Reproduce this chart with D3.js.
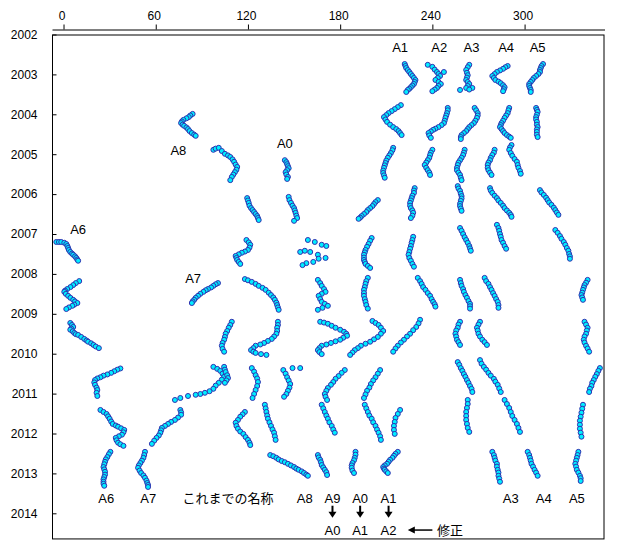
<!DOCTYPE html>
<html>
<head>
<meta charset="utf-8">
<script src="https://cdn.jsdelivr.net/npm/d3@7"></script>
<style>
  body { margin: 0; background: #fff; }
  text { font-family: "Liberation Sans", Arial, sans-serif; fill: #000; }
  .jp { font-family: "Noto Sans CJK JP", sans-serif; }
</style>
</head>
<body>
<svg id="chart" width="620" height="550"></svg>
<script>
// ---- Data: tracks, [longitude, year] ----
const lonTicks = [0, 60, 120, 180, 240, 300];
const yearTicks = d3.range(2002, 2015);

const tracks2003 = [
  [[222,2002.74],[222.5,2002.79],[223,2002.84],[224,2002.89],[225,2002.94],[226,2002.99],[227,2003.04],[228,2003.09],[229,2003.14],[228.5,2003.19],[228,2003.24],[227,2003.28],[226,2003.32],[225,2003.36],[224,2003.39],[223,2003.44]],
  [[237,2002.76],[240,2002.81],[241.5,2002.88],[243,2002.94],[247.5,2002.94],[244,2002.99],[245,2003.04],[243.5,2003.09],[242,2003.14],[244,2003.19],[245.5,2003.24],[244,2003.29],[243,2003.34],[241.5,2003.38],[240,2003.42]],
  [[264,2002.76],[263,2002.82],[262,2002.89],[262.5,2002.96],[263,2003.02],[262.5,2003.08],[262,2003.14],[263,2003.19],[264,2003.24],[263,2003.29],[262,2003.34],[266,2003.34],[264,2003.38],[258,2003.39]],
  [[289,2002.79],[287.5,2002.82],[286,2002.86],[284,2002.90],[282,2002.94],[280.5,2002.99],[279,2003.04],[280,2003.09],[281,2003.14],[283,2003.18],[284.5,2003.22],[286,2003.27],[287,2003.32],[286.5,2003.37],[286,2003.42]],
  [[312,2002.74],[311,2002.79],[310.5,2002.84],[310,2002.89],[310,2002.94],[309,2002.99],[307.5,2003.04],[306,2003.09],[305,2003.14],[304,2003.19],[303,2003.24],[303,2003.29],[303.5,2003.34],[304,2003.39],[304,2003.44]]
];
const tracks2004 = [
  [[84,2003.99],[82.5,2004.03],[81.5,2004.07],[80,2004.10],[78,2004.14],[77,2004.18],[76.5,2004.22],[77.5,2004.26],[78.5,2004.29],[80,2004.33],[81,2004.37],[82,2004.42],[83.5,2004.47],[85,2004.51],[86,2004.54]],
  [[219.5,2003.77],[217.5,2003.82],[215.5,2003.87],[213.5,2003.92],[211.5,2003.97],[210,2004.02],[208.5,2004.07],[209.5,2004.13],[210.5,2004.19],[212.5,2004.26],[214.5,2004.32],[216.5,2004.37],[218,2004.42],[219,2004.47],[220,2004.52]],
  [[250,2003.84],[250,2003.90],[249.5,2003.97],[249,2004.03],[248.5,2004.09],[248,2004.16],[247.5,2004.22],[246,2004.27],[244,2004.32],[242,2004.36],[240.5,2004.39],[239,2004.43],[237.5,2004.47],[238,2004.53],[239,2004.59]],
  [[267.5,2003.84],[268.5,2003.90],[269.5,2003.97],[269.5,2004.03],[269,2004.09],[268,2004.16],[267,2004.22],[265.5,2004.27],[264,2004.32],[263,2004.37],[262,2004.42],[260.5,2004.47],[259,2004.52],[258.5,2004.57],[258.5,2004.62]],
  [[290,2003.84],[289.5,2003.90],[289,2003.97],[288,2004.03],[287,2004.09],[286,2004.16],[285,2004.22],[284.5,2004.27],[284,2004.32],[285,2004.37],[286,2004.42],[287,2004.47],[288.5,2004.52],[290,2004.56],[291,2004.59]],
  [[307.5,2003.84],[308,2003.89],[308.5,2003.94],[308,2004.01],[307.5,2004.07],[307.5,2004.13],[308,2004.19],[308,2004.26],[308.5,2004.32],[308,2004.38],[308,2004.44],[308,2004.51],[308.5,2004.57]]
];
const tracks2005 = [
  [[97.5,2004.89],[99,2004.86],[101,2004.84],[103,2004.92],[105,2004.99],[107,2005.03],[108.5,2005.07],[110,2005.13],[111,2005.19],[112,2005.26],[113,2005.32],[112.5,2005.39],[111.5,2005.45],[110.5,2005.51],[109.5,2005.57],[108.5,2005.65]],
  [[144,2005.15],[145,2005.20],[145.5,2005.25],[146,2005.30],[146.5,2005.35],[145.5,2005.40],[144.5,2005.45],[145,2005.51],[146,2005.57],[145.5,2005.62]],
  [[214.5,2004.84],[214,2004.90],[213,2004.97],[212,2005.03],[211,2005.09],[210,2005.16],[209.5,2005.22],[209,2005.28],[208.5,2005.34],[208,2005.41],[208,2005.47],[208.5,2005.53],[209,2005.59]],
  [[240,2004.89],[239,2004.96],[238.5,2005.02],[238,2005.09],[237,2005.15],[236,2005.21],[235,2005.27],[236,2005.34],[237,2005.40],[238,2005.46],[238.5,2005.52]],
  [[261,2004.89],[260.5,2004.96],[260,2005.02],[259,2005.09],[258,2005.15],[257,2005.21],[256.5,2005.27],[256,2005.34],[256,2005.40],[257,2005.46],[258,2005.52],[258.5,2005.59],[259,2005.65]],
  [[280.5,2004.89],[280,2004.96],[279,2005.02],[278,2005.09],[277.5,2005.15],[276.5,2005.21],[276,2005.27],[276,2005.34],[276.5,2005.40],[277.5,2005.46],[278.5,2005.52]],
  [[291.5,2004.77],[290.5,2004.83],[290,2004.89],[291,2004.97],[292,2005.04],[293.5,2005.12],[295,2005.19],[295.5,2005.27],[296,2005.34],[297,2005.42],[297.5,2005.49]]
];
const tracks2006 = [
  [[119.5,2006.10],[120,2006.16],[120.5,2006.22],[121,2006.29],[122,2006.35],[123,2006.40],[124,2006.45],[125,2006.50],[126,2006.55],[126.5,2006.60],[127,2006.65]],
  [[146.5,2006.07],[147,2006.15],[148,2006.22],[149,2006.29],[150,2006.35],[150.5,2006.41],[151,2006.47],[151.5,2006.54],[152,2006.60],[150,2006.67]],
  [[204.5,2006.15],[203,2006.20],[202,2006.25],[201,2006.30],[199.5,2006.35],[198,2006.40],[197,2006.45],[195.5,2006.50],[194,2006.55],[193,2006.59],[192,2006.62]],
  [[228.5,2005.85],[228,2005.91],[228,2005.97],[227,2006.04],[226.5,2006.10],[226,2006.16],[225.5,2006.22],[225.5,2006.29],[226,2006.35],[227,2006.41],[227.5,2006.47],[227,2006.54],[226,2006.60]],
  [[256.5,2005.80],[257,2005.86],[258,2005.92],[258.5,2005.99],[259,2006.05],[259,2006.11],[258.5,2006.17],[258,2006.24],[258,2006.30],[258.5,2006.36],[259,2006.42]],
  [[277.5,2005.85],[278,2005.91],[279,2005.97],[280.5,2006.04],[282,2006.10],[283,2006.16],[284.5,2006.22],[286,2006.29],[287,2006.35],[288.5,2006.41],[290,2006.47],[291,2006.52],[291.5,2006.57]],
  [[310,2005.90],[311,2005.96],[312.5,2006.02],[314,2006.09],[315,2006.15],[316,2006.21],[317.5,2006.27],[319,2006.34],[320,2006.40],[321,2006.46],[322,2006.52]]
];
const tracks2007 = [
  [[-4.7,2007.20],[-3,2007.20],[-1.5,2007.20],[0.5,2007.22],[1.8,2007.25],[2.5,2007.30],[3,2007.35],[3.5,2007.40],[4.4,2007.45],[5.5,2007.49],[6.3,2007.52],[7.5,2007.56],[8.3,2007.60],[9,2007.64],[9.5,2007.67]],
  [[119,2007.15],[120.5,2007.21],[121.5,2007.27],[121,2007.34],[120,2007.40],[118,2007.44],[116,2007.47],[114,2007.51],[112,2007.55],[112.5,2007.60],[113,2007.65],[114,2007.70],[115,2007.75]],
  [[159,2007.15],[163.5,2007.20],[168,2007.27],[171,2007.30],[154,2007.45],[157,2007.42],[160.5,2007.45],[165.5,2007.52],[170.5,2007.60],[166,2007.62],[162.5,2007.70],[158,2007.73],[155.5,2007.78]],
  [[200.5,2007.10],[199.5,2007.17],[198.5,2007.25],[197.5,2007.32],[196.5,2007.40],[196,2007.46],[195.5,2007.52],[195.5,2007.59],[195.5,2007.65],[196,2007.70],[196.5,2007.75],[198,2007.80],[199.5,2007.85]],
  [[227.5,2007.07],[227,2007.15],[226.5,2007.22],[226,2007.30],[225.5,2007.37],[225,2007.45],[224.5,2007.52],[225,2007.60],[226,2007.67],[227,2007.75],[228,2007.82]],
  [[258,2006.85],[259,2006.92],[260,2007.00],[261,2007.08],[262,2007.15],[263,2007.22],[264,2007.30],[264.5,2007.36],[265,2007.42]],
  [[282,2006.77],[283,2006.85],[283.5,2006.92],[284,2007.00],[284.5,2007.07],[285,2007.15],[286,2007.22],[287,2007.30],[288,2007.37]],
  [[320,2006.90],[321.5,2006.97],[323,2007.05],[324,2007.12],[325.5,2007.20],[326.5,2007.27],[327.5,2007.35],[328.5,2007.42],[329,2007.50],[329.5,2007.56],[329.5,2007.62]]
];
const tracks2008 = [
  [[100.5,2008.23],[99,2008.26],[97.5,2008.30],[96,2008.34],[94,2008.38],[92.5,2008.41],[91,2008.45],[89,2008.50],[87.5,2008.55],[86,2008.60],[85,2008.65],[84,2008.69],[83.5,2008.73]],
  [[10.2,2008.18],[8,2008.23],[6.3,2008.28],[4.5,2008.33],[2.4,2008.38],[1,2008.42],[0.5,2008.45],[1.5,2008.50],[3,2008.55],[4.5,2008.60],[6.3,2008.65],[7.5,2008.69],[9,2008.73],[7,2008.77],[5.7,2008.80],[3.5,2008.84],[1.8,2008.88]],
  [[118,2008.13],[120,2008.16],[122.5,2008.20],[125,2008.25],[127,2008.30],[129.5,2008.35],[131.5,2008.40],[133.5,2008.47],[135,2008.53],[136.5,2008.59],[137.5,2008.65],[138.5,2008.72],[139,2008.78],[139.5,2008.84],[140,2008.90]],
  [[165.5,2008.15],[167,2008.23],[168,2008.30],[169.5,2008.38],[170.5,2008.45],[168,2008.50],[166,2008.55],[167,2008.63],[168,2008.70],[170,2008.75],[172,2008.80],[168.5,2008.85],[165.5,2008.90]],
  [[198,2008.10],[197,2008.18],[196.5,2008.25],[196,2008.33],[195.5,2008.40],[195.5,2008.48],[195.5,2008.55],[196,2008.63],[196.5,2008.70],[197,2008.78],[198,2008.87]],
  [[230.5,2008.10],[232,2008.18],[233,2008.25],[234,2008.33],[235.5,2008.40],[237,2008.48],[238.5,2008.55],[239.5,2008.63],[240.5,2008.70],[241.5,2008.76],[242,2008.82]],
  [[258,2008.15],[258.5,2008.23],[259,2008.30],[260,2008.38],[260.5,2008.45],[261.5,2008.53],[262.5,2008.60],[263.5,2008.68],[264.5,2008.75],[264.5,2008.81],[264.5,2008.87]],
  [[274,2008.10],[275,2008.18],[276.5,2008.25],[277.5,2008.33],[278.5,2008.40],[279.5,2008.48],[280.5,2008.55],[281.5,2008.63],[282.5,2008.70],[283,2008.78],[283,2008.85]],
  [[341,2008.15],[340,2008.22],[339,2008.28],[338.5,2008.34],[338,2008.40],[337.5,2008.47],[337,2008.53],[337.5,2008.59],[338,2008.65]]
];
const tracks2009 = [
  [[4.4,2009.23],[5.5,2009.28],[6.3,2009.33],[5,2009.37],[4.4,2009.40],[6,2009.44],[7,2009.48],[8,2009.51],[9.5,2009.53],[11.5,2009.58],[13.5,2009.63],[15,2009.67],[16,2009.70],[18,2009.74],[19.5,2009.78],[21,2009.82],[23,2009.86]],
  [[109.5,2009.20],[108.5,2009.28],[107.5,2009.35],[106.5,2009.43],[105.5,2009.50],[105,2009.58],[104.5,2009.65],[103.5,2009.73],[103,2009.80],[103.5,2009.88],[104.5,2009.95]],
  [[139.5,2009.20],[139.5,2009.28],[139,2009.35],[139,2009.43],[138.5,2009.50],[137,2009.57],[135.5,2009.63],[133,2009.68],[130.5,2009.73],[128,2009.77],[125,2009.80],[123.5,2009.86],[122,2009.91],[123.5,2009.95],[125,2009.98],[128.5,2010.01],[132,2010.03]],
  [[167,2009.20],[169.5,2009.22],[172,2009.25],[174.5,2009.30],[177,2009.35],[180,2009.40],[182.5,2009.45],[184,2009.50],[184.5,2009.55],[182,2009.60],[180,2009.65],[177,2009.69],[174,2009.73],[171,2009.77],[168,2009.80],[166.5,2009.86],[165.5,2009.91],[166.5,2009.96],[168,2010.01]],
  [[201,2009.18],[203,2009.23],[205,2009.28],[206.5,2009.35],[208,2009.43],[206.5,2009.50],[204.5,2009.58],[202,2009.64],[199.5,2009.70],[196.5,2009.75],[193.5,2009.80],[191.5,2009.86],[189.5,2009.91],[188,2009.97],[186.5,2010.03]],
  [[232,2009.15],[231,2009.24],[229.5,2009.33],[227.5,2009.41],[225.5,2009.50],[223.5,2009.57],[221.5,2009.65],[219.5,2009.72],[217.5,2009.80],[216,2009.87],[214.5,2009.95]],
  [[258,2009.20],[257,2009.27],[256.5,2009.35],[255.5,2009.42],[255,2009.50],[255.5,2009.57],[256,2009.65],[257,2009.71],[258,2009.78]],
  [[271,2009.20],[270,2009.27],[269,2009.35],[269.5,2009.42],[270,2009.50],[271,2009.57],[272.5,2009.65],[274,2009.71],[275.5,2009.78]],
  [[339,2009.20],[340,2009.27],[341,2009.35],[340.5,2009.42],[340,2009.50],[339,2009.57],[338.5,2009.65],[339,2009.72],[340,2009.80],[341,2009.87],[342,2009.95]]
];
const tracks2010 = [
  [[37,2010.37],[35,2010.40],[33,2010.44],[31,2010.48],[28.5,2010.52],[26,2010.55],[24,2010.59],[22,2010.62],[20.5,2010.66],[20,2010.72],[20.5,2010.78],[21.5,2010.85],[22,2010.91],[21.5,2010.98],[22,2011.06]],
  [[97.5,2010.33],[100,2010.38],[102,2010.43],[103.5,2010.50],[104.5,2010.58],[103,2010.65],[101,2010.73],[99,2010.80],[97.5,2010.88],[95,2010.94],[92,2010.98],[89,2011.01],[86,2011.03],[81,2011.06],[76,2011.11],[72.5,2011.16]],
  [[122.5,2010.36],[124,2010.45],[125,2010.54],[126,2010.62],[126.5,2010.71],[126,2010.81],[125,2010.91],[124,2011.01],[123,2011.11]],
  [[104.5,2010.33],[105,2010.40],[105.5,2010.46],[106.5,2010.54],[107,2010.61],[106,2010.67],[105,2010.73]],
  [[143,2010.41],[144.5,2010.50],[145.5,2010.59],[146.5,2010.67],[147.5,2010.76],[147,2010.85],[146,2010.93],[145,2011.01],[143.5,2011.08],[149,2010.36],[154,2010.36]],
  [[183,2010.41],[181,2010.48],[179,2010.56],[177,2010.63],[175.5,2010.71],[174,2010.78],[172,2010.86],[171,2010.93],[170,2011.01],[170.5,2011.08],[171.5,2011.16]],
  [[206,2010.41],[204.5,2010.50],[203,2010.59],[201.5,2010.67],[200,2010.76],[199,2010.85],[197.5,2010.93],[196.5,2011.02],[195.5,2011.11]],
  [[256.5,2010.21],[257.5,2010.28],[258.5,2010.36],[259.5,2010.43],[260.5,2010.51],[261.5,2010.58],[262.5,2010.66],[263.5,2010.73],[264.5,2010.81],[265.5,2010.88],[266,2010.96]],
  [[271,2010.16],[272,2010.25],[273.5,2010.33],[275,2010.40],[276.5,2010.48],[278,2010.55],[280,2010.63],[281,2010.70],[282.5,2010.78],[283.5,2010.87],[284.5,2010.96]],
  [[349,2010.36],[348,2010.43],[347,2010.51],[346,2010.58],[345,2010.66],[344,2010.73],[343.5,2010.81],[342.5,2010.88],[342,2010.96]]
];
const tracks2012 = [
  [[24,2011.41],[26,2011.46],[28,2011.51],[29,2011.57],[30,2011.63],[31,2011.70],[32,2011.76],[34,2011.80],[35.5,2011.83],[37.5,2011.87],[39.5,2011.91],[39,2011.97],[38,2012.03],[36,2012.07],[34,2012.11],[34.5,2012.17],[35.5,2012.23],[37,2012.27],[39,2012.31]],
  [[76,2011.41],[76.5,2011.47],[76.5,2011.53],[74.5,2011.60],[72.5,2011.66],[70,2011.71],[68,2011.76],[66,2011.81],[64,2011.86],[63.5,2011.92],[63,2011.98],[62,2012.05],[60.5,2012.11],[59,2012.18],[57.5,2012.26]],
  [[118,2011.46],[116.5,2011.52],[115,2011.58],[113.5,2011.66],[112,2011.73],[112.5,2011.81],[113.5,2011.88],[115,2011.95],[117,2012.01],[118.5,2012.09],[120,2012.16],[121,2012.23],[121.5,2012.29]],
  [[131,2011.28],[131.5,2011.37],[132,2011.46],[132.5,2011.55],[133,2011.63],[134,2011.72],[135,2011.81],[136,2011.90],[137,2011.98],[137.5,2012.07],[138,2012.16]],
  [[168,2011.28],[169,2011.37],[170,2011.46],[171,2011.55],[172,2011.63],[173,2011.72],[174.5,2011.81],[175.5,2011.90],[176.5,2011.98]],
  [[196,2011.28],[197,2011.37],[198,2011.46],[199,2011.55],[200.5,2011.63],[201.5,2011.72],[203,2011.81],[204,2011.90],[205,2011.98],[206,2012.07],[206.5,2012.16]],
  [[219,2011.41],[217.5,2011.51],[216,2011.61],[215.5,2011.71],[215,2011.81],[215,2011.91],[215.5,2012.01]],
  [[263,2011.16],[263,2011.26],[262.5,2011.36],[262,2011.46],[262,2011.56],[262,2011.66],[262.5,2011.76],[263,2011.86],[264,2011.96]],
  [[287,2011.16],[288.5,2011.26],[290,2011.36],[291,2011.46],[292,2011.56],[293.5,2011.66],[295,2011.76],[296,2011.86],[297,2011.96]],
  [[338,2011.28],[337.5,2011.38],[337,2011.48],[336.5,2011.58],[336,2011.68],[336,2011.78],[336,2011.88],[336.5,2011.98],[337,2012.08]]
];
const tracks2013 = [
  [[30.5,2012.46],[29.5,2012.52],[28.5,2012.59],[27.5,2012.65],[27,2012.71],[26.5,2012.77],[26,2012.84],[26.5,2012.90],[27,2012.96],[27,2013.03],[26.5,2013.09],[26,2013.15],[26,2013.21],[26,2013.26],[26.5,2013.31]],
  [[53,2012.46],[52.5,2012.54],[52,2012.61],[51,2012.68],[50,2012.74],[49,2012.80],[48.5,2012.86],[49.5,2012.93],[50.5,2012.99],[52,2013.05],[53,2013.11],[54,2013.18],[54.5,2013.24],[55,2013.29],[55,2013.34]],
  [[134.5,2012.54],[136.5,2012.57],[138.5,2012.61],[140,2012.65],[142,2012.69],[144,2012.72],[146,2012.76],[148,2012.80],[150,2012.84],[151.5,2012.88],[153,2012.91],[155,2012.95],[156.5,2012.99],[158,2013.03],[159,2013.06]],
  [[165.5,2012.54],[166,2012.60],[167,2012.66],[167.5,2012.72],[168,2012.79],[169,2012.85],[170,2012.91],[171,2012.97],[171.5,2013.04]],
  [[190,2012.46],[190,2012.53],[189.5,2012.61],[189,2012.67],[188,2012.74],[187.5,2012.80],[187.5,2012.86],[188,2012.93],[189,2012.99]],
  [[217.5,2012.46],[216,2012.51],[215,2012.56],[214,2012.61],[212.5,2012.66],[211.5,2012.71],[210.5,2012.76],[209,2012.80],[208,2012.84],[208.5,2012.88],[209,2012.91],[210,2012.95],[211,2012.99]],
  [[279,2012.46],[280,2012.54],[280.5,2012.61],[281,2012.68],[282,2012.76],[282,2012.83],[282.5,2012.91],[283,2012.98],[283,2013.06],[283.5,2013.13],[284,2013.21]],
  [[302,2012.46],[303,2012.54],[303.5,2012.61],[304,2012.68],[304.5,2012.76],[305.5,2012.83],[306.5,2012.91],[307.5,2012.98],[308.5,2013.06]],
  [[335,2012.46],[334.5,2012.54],[334,2012.61],[333.5,2012.68],[333,2012.76],[333.5,2012.83],[334,2012.91],[335,2012.98],[336,2013.06],[336.5,2013.12],[336.5,2013.19]]
];

// feature names, anchored at [lon, year]
const names = [
  ["A1",219,2002.43],["A2",244.5,2002.43],["A3",265.5,2002.43],["A4",288,2002.43],["A5",308.5,2002.43],
  ["A8",74.7,2005.02],["A0",144,2004.84],["A6",9.5,2007.0],["A7",84.3,2008.23],
  ["A6",27.8,2013.74],["A7",55.1,2013.74],["A8",157,2013.74],["A9",175,2013.74],["A0",193,2013.74],
  ["A1",211.5,2013.74],["A3",291,2013.74],["A4",312.5,2013.74],["A5",334,2013.74]
];
const renamed = ["A0", "A1", "A2"];
const renamedLon = [175, 193, 211.5];

// ---- Scales ----
const svg = d3.select("#chart");
const x = d3.scaleLinear().domain([-7.5, 352]).range([52, 604.5]);
const y = d3.scaleLinear().domain([2002, 2014]).range([34.5, 513.3]);
const yEnd = 2014.63;

// Plot frame
svg.append("rect")
    .attr("x", x(-7.5) + 0.5)
    .attr("y", y(2002) + 0.5)
    .attr("width", x(352) - x(-7.5) - 1)
    .attr("height", y(yEnd) - y(2002))
    .attr("fill", "none")
    .attr("stroke", "#000");

// Top longitude axis, sits just above the frame
const gx = svg.append("g")
    .attr("transform", "translate(0,29.5)")
    .call(d3.axisTop(x).tickValues(lonTicks).tickSize(5).tickSizeOuter(0).tickPadding(5));
gx.selectAll("text").attr("font-size", 12).attr("dx", -2).style("font-family", null);

// Year axis, ticks pointing into the plot
const gy = svg.append("g")
    .attr("transform", `translate(${x(-7.5) + 0.5},0)`)
    .call(d3.axisLeft(y).tickValues(yearTicks).tickFormat(d3.format("d")).tickSize(-4).tickPadding(15));
gy.select(".domain").remove();
gy.selectAll("text").attr("font-size", 12).style("font-family", null);
svg.selectAll(".tick line").attr("stroke", "#000");
svg.selectAll(".domain").attr("stroke", "#000");

// ---- Dots ----
const allTracks = [tracks2003, tracks2004, tracks2005, tracks2006, tracks2007,
                   tracks2008, tracks2009, tracks2010, tracks2012, tracks2013];
const points = allTracks.flat().flat();
svg.append("g")
    .selectAll("circle")
    .data(points)
    .join("circle")
    .attr("cx", d => x(d[0]))
    .attr("cy", d => y(d[1]))
    .attr("r", 2.5)
    .attr("fill", "#00eeff")
    .attr("stroke", "#3030b0")
    .attr("stroke-width", 1);

// ---- Labels ----
svg.append("g")
    .selectAll("text")
    .data(names)
    .join("text")
    .attr("x", d => x(d[1]))
    .attr("y", d => y(d[2]))
    .attr("text-anchor", "middle")
    .attr("font-size", 13)
    .text(d => d[0]);

svg.append("text")
    .attr("class", "jp")
    .attr("x", x(107))
    .attr("y", y(2013.74))
    .attr("text-anchor", "middle")
    .attr("font-size", 13)
    .text("これまでの名称");

svg.append("g")
    .selectAll("text")
    .data(renamed)
    .join("text")
    .attr("x", (d, i) => x(renamedLon[i]))
    .attr("y", y(2014.54))
    .attr("text-anchor", "middle")
    .attr("font-size", 13)
    .text(d => d);

// down arrows from old name to new name
const arrows = svg.append("g");
renamedLon.forEach(lon => {
    const cx = x(lon), y0 = y(2013.81), y1 = y(2014.11);
    arrows.append("line")
        .attr("x1", cx).attr("x2", cx).attr("y1", y0).attr("y2", y1 - 5)
        .attr("stroke", "#000").attr("stroke-width", 2);
    arrows.append("path")
        .attr("d", `M${cx - 4},${y1 - 6}L${cx + 4},${y1 - 6}L${cx},${y1}Z`)
        .attr("fill", "#000");
});

// left arrow pointing to the corrected names
const ax0 = x(224), ax1 = x(240), ay = y(2014.42);
arrows.append("line")
    .attr("x1", ax0 + 6).attr("x2", ax1).attr("y1", ay).attr("y2", ay)
    .attr("stroke", "#000").attr("stroke-width", 1.5);
arrows.append("path")
    .attr("d", `M${ax0},${ay}L${ax0 + 7},${ay - 3.5}L${ax0 + 7},${ay + 3.5}Z`)
    .attr("fill", "#000");

svg.append("text")
    .attr("class", "jp")
    .attr("x", x(243))
    .attr("y", y(2014.54))
    .attr("font-size", 13)
    .text("修正");
</script>
</body>
</html>
